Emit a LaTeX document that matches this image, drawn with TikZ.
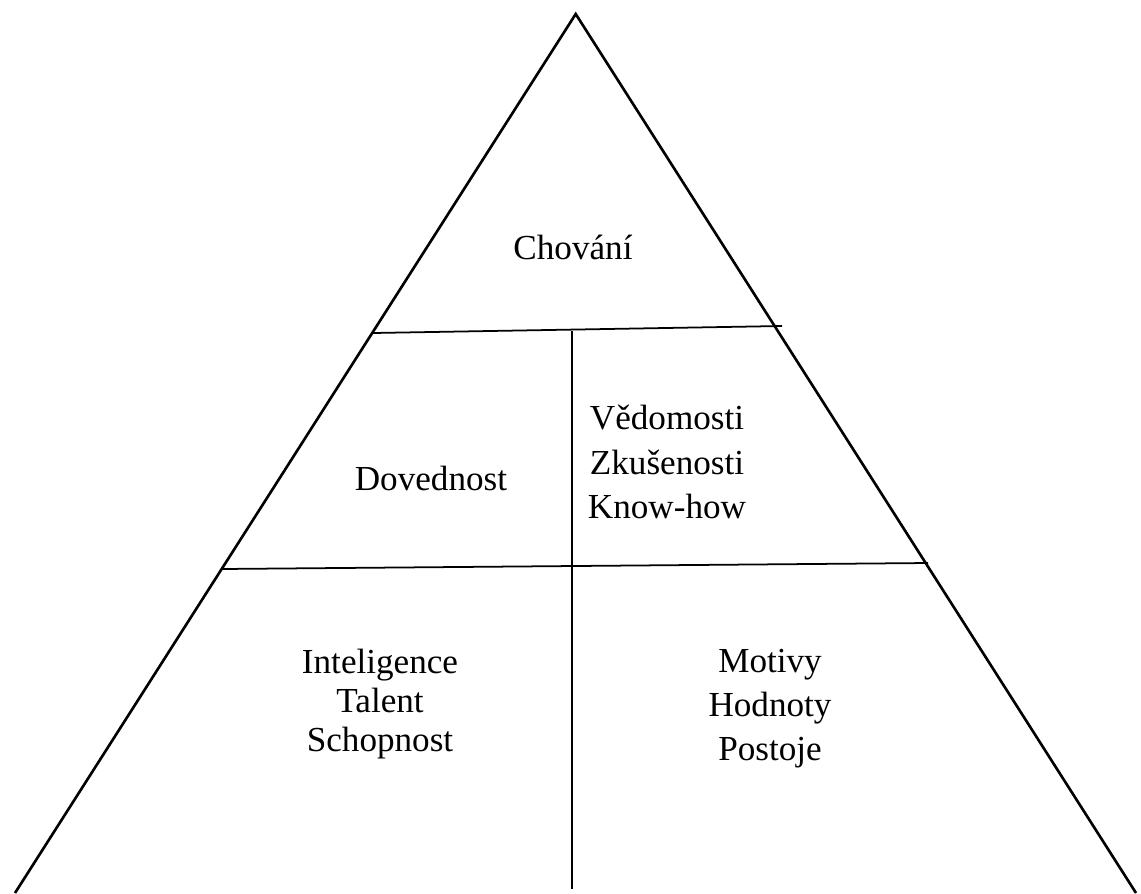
\documentclass[tikz,border=0pt]{standalone}
\usepackage{fontspec}
\setmainfont{Liberation Serif}
\begin{document}
\begin{tikzpicture}[x=0.02cm,y=-0.02cm,
  pyrtext/.style={align=center,inner sep=0pt,font=\fontsize{20}{20.4}\selectfont}]
\useasboundingbox (0,0) rectangle (1141,893);
% the pyramid
\draw[line width=1.5pt] (15,893) -- (575.7,14) -- (1136,893);
%% the layers
\draw[line width=1pt] (373,333) -- (782,326);
\draw[line width=1pt] (221,569) -- (928,563);
\draw[line width=1pt] (572,331) -- (572,889);
%% the labels
\node[pyrtext,anchor=base] (chovani) at (573,259) {Chování};
\node[pyrtext,anchor=base] (dovednost) at (431,490) {Dovednost};
\node[pyrtext] (vedomosti) at (667,462) {Vědomosti\\[5pt]Zkušenosti\\[5pt]Know-how};
\node[pyrtext] (inteligence) at (380,704) {Inteligence\\[2pt]Talent\\[2pt]Schopnost};
\node[pyrtext] (motivy) at (770,709) {Motivy\\[4.6pt]Hodnoty\\[4.6pt]Postoje};
\end{tikzpicture}
\end{document}
